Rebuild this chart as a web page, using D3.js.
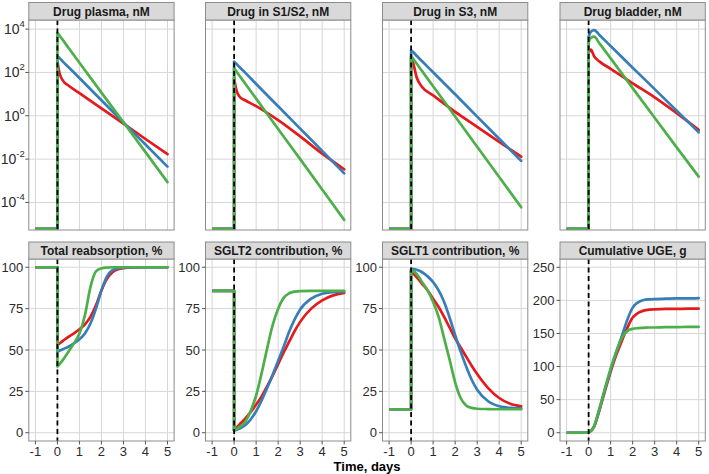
<!DOCTYPE html>
<html><head><meta charset="utf-8">
<script src="https://cdn.jsdelivr.net/npm/d3@7"></script>
<style>
body{margin:0;background:#fff}
svg{display:block;font-family:"Liberation Sans",Arial,Helvetica,sans-serif}
</style>
</head><body>
<svg id="chart" width="709" height="474"></svg>
<script>
// ---------------- DATA ----------------
const seriesColors = ["#E41A1C", "#377EB8", "#4DAF4A"]; // red, blue, green (drawn in this order)
const xTicks = [-1, 0, 1, 2, 3, 4, 5];
const topTitles = ["Drug plasma, nM", "Drug in S1/S2, nM", "Drug in S3, nM", "Drug bladder, nM"];
const bottomTitles = ["Total reabsorption, %", "SGLT2 contribution, %", "SGLT1 contribution, %", "Cumulative UGE, g"];
const xTitle = "Time, days";
const logTicks = [1e-4, 1e-2, 1, 1e2, 1e4];
const logTickExponents = ["-4", "-2", "0", "2", "4"];
const pctTicks = [0, 25, 50, 75, 100];
const ugeTicks = [0, 50, 100, 150, 200, 250];

// top row: concentrations (nM), before dose the drug is below the visible range
const topDays = [0, 0.1, 0.25, 0.5, 1, 2, 3, 4, 5];
const baselineNM = 6e-6;
const plasmaRed   = [316, 89, 42, 25, 11.2, 2.2, 0.44, 0.085, 0.017];
const plasmaBlue  = [575, 457, 316, 178, 55, 5.2, 0.49, 0.047, 0.0045];
const plasmaGreen = [6800, 4900, 3100, 1380, 280, 11.7, 0.50, 0.021, 0.00087];
const s12Red   = [55, 15.8, 7.6, 5.2, 2.8, 0.63, 0.112, 0.0178, 0.0034];
const s12Blue  = [316, 251, 174, 98, 29.5, 2.75, 0.257, 0.024, 0.0022];
const s12Green = [155, 112, 69, 31, 6.2, 0.245, 0.010, 0.0004, 0.0000158];
const s3Red   = [417, 251, 60, 21.4, 8.7, 1.51, 0.31, 0.063, 0.0129];
const s3Blue  = [1070, 850, 590, 330, 102, 9.8, 0.91, 0.087, 0.0083];
const s3Green = [575, 417, 257, 115, 23, 0.93, 0.037, 0.0015, 0.00006];
const bladderRed   = [800, 1120, 560, 316, 148, 31.6, 7.1, 1.32, 0.224];
const bladderBlue  = [4470, 7600, 8900, 5250, 1660, 166, 17, 1.7, 0.174];
const bladderGreen = [2630, 3980, 4470, 2140, 447, 19, 0.81, 0.035, 0.00155];

// bottom row
const bottomDays = [0, 0.25, 0.5, 0.75, 1, 1.25, 1.5, 1.75, 2, 2.25, 2.5, 2.75, 3, 3.5, 4, 4.5, 5];
const reabsPre = 100;
const reabsRed   = [53, 55.5, 58, 60, 62.5, 65.5, 70, 77, 86, 93, 97, 98.8, 99.5, 99.9, 100, 100, 100];
const reabsBlue  = [49, 50.5, 52, 54, 56.5, 60, 66, 75, 86, 94.5, 98.3, 99.5, 99.8, 100, 100, 100, 100];
const reabsGreen = [40, 44, 49, 54, 60, 71, 88, 97.5, 99.3, 99.8, 100, 100, 100, 100, 100, 100, 100];
const sglt2Pre = 85.7;
const sglt2Red   = [1.5, 5, 8.5, 12.5, 17, 22, 28, 34.5, 41.5, 48.5, 55, 61.5, 67, 75, 80, 83, 84.5];
const sglt2Blue  = [1.2, 2.5, 4.5, 8, 13, 19.5, 27, 35, 43.5, 52, 61, 68.5, 74.5, 81, 84, 85, 85.3];
const sglt2Green = [1.5, 3.5, 6.5, 13, 22.5, 36, 51, 65, 75, 81.5, 84.3, 85.3, 85.6, 85.7, 85.7, 85.7, 85.7];
const sglt1Pre = 14.2;
const sglt1Red   = [97.5, 94, 90, 86, 81, 76, 70, 63.5, 57, 51.5, 46, 40.5, 35.5, 27, 21, 17.5, 16];
const sglt1Blue  = [99, 98.5, 97, 94.5, 91, 86, 79, 69.5, 59, 49, 40, 32, 26, 19, 16, 15, 14.7];
const sglt1Green = [98.5, 96, 91, 86, 79, 70, 57, 44, 30.5, 21, 16.5, 15, 14.5, 14.3, 14.2, 14.2, 14.2];
const ugePre = 0;
const ugeRed   = [0, 9, 35, 64, 92, 117, 138, 158, 174, 181, 184.5, 186, 186.5, 187, 187, 187.5, 187.5];
const ugeBlue  = [0, 9.5, 36, 66, 95, 121, 145, 170, 189, 197, 200.5, 201.5, 202, 202.5, 203, 203, 203.5];
const ugeGreen = [0, 10, 38, 68, 97, 122, 143, 153.5, 157, 158, 158.5, 159, 159, 159.5, 159.5, 160, 160];

// ---------------- LAYOUT ----------------
const panelLefts = [28.8, 205.5, 382.5, 560];
const panelW = 145.3;
const rows = [
  {stripTop: 2.5, plotTop: 20, plotBottom: 230},
  {stripTop: 242, plotTop: 259, plotBottom: 441}
];

const panels = [
  {row: 0, col: 0, title: topTitles[0], days: topDays, pre: [baselineNM, baselineNM, baselineNM], series: [plasmaRed, plasmaBlue, plasmaGreen], log: true, yLabels: true},
  {row: 0, col: 1, title: topTitles[1], days: topDays, pre: [baselineNM, baselineNM, baselineNM], series: [s12Red, s12Blue, s12Green], log: true, yLabels: false},
  {row: 0, col: 2, title: topTitles[2], days: topDays, pre: [baselineNM, baselineNM, baselineNM], series: [s3Red, s3Blue, s3Green], log: true, yLabels: false},
  {row: 0, col: 3, title: topTitles[3], days: topDays, pre: [baselineNM, baselineNM, baselineNM], series: [bladderRed, bladderBlue, bladderGreen], log: true, yLabels: false},
  {row: 1, col: 0, title: bottomTitles[0], days: bottomDays, pre: [reabsPre, reabsPre, reabsPre], series: [reabsRed, reabsBlue, reabsGreen], ticks: pctTicks, domain: [-5, 105], yLabels: true},
  {row: 1, col: 1, title: bottomTitles[1], days: bottomDays, pre: [sglt2Pre, sglt2Pre, sglt2Pre], series: [sglt2Red, sglt2Blue, sglt2Green], ticks: pctTicks, domain: [-5, 105], yLabels: true},
  {row: 1, col: 2, title: bottomTitles[2], days: bottomDays, pre: [sglt1Pre, sglt1Pre, sglt1Pre], series: [sglt1Red, sglt1Blue, sglt1Green], ticks: pctTicks, domain: [-5, 105], yLabels: true},
  {row: 1, col: 3, title: bottomTitles[3], days: bottomDays, pre: [ugePre, ugePre, ugePre], series: [ugeRed, ugeBlue, ugeGreen], ticks: ugeTicks, domain: [-12.5, 262.5], yLabels: true}
];

const svg = d3.select("#chart");
const defs = svg.append("defs");
const gridColor = "#D6D6D6";
const borderColor = "#8C8C8C";
const textColor = "#2B2B2B";

panels.forEach((p, i) => {
  const r = rows[p.row];
  const left = panelLefts[p.col];
  const x = d3.scaleLinear().domain([-1.3, 5.3]).range([left, left + panelW]);
  const y = p.log
    ? d3.scaleLog().domain([Math.pow(10, -5.27), Math.pow(10, 4.42)]).range([r.plotBottom, r.plotTop])
    : d3.scaleLinear().domain(p.domain).range([r.plotBottom, r.plotTop]);
  const yTicks = p.log ? logTicks : p.ticks;

  const g = svg.append("g");
  g.append("rect").attr("x", left).attr("y", r.plotTop).attr("width", panelW)
    .attr("height", r.plotBottom - r.plotTop).attr("fill", "#fff");
  g.selectAll(".vg").data(xTicks).enter().append("line")
    .attr("x1", d => x(d)).attr("x2", d => x(d))
    .attr("y1", r.plotTop).attr("y2", r.plotBottom)
    .attr("stroke", gridColor).attr("stroke-width", 1);
  g.selectAll(".hg").data(yTicks).enter().append("line")
    .attr("x1", left).attr("x2", left + panelW)
    .attr("y1", d => y(d)).attr("y2", d => y(d))
    .attr("stroke", gridColor).attr("stroke-width", 1);

  const clipId = "clip" + i;
  defs.append("clipPath").attr("id", clipId).append("rect")
    .attr("x", left).attr("y", r.plotTop).attr("width", panelW).attr("height", r.plotBottom - r.plotTop);
  const lines = g.append("g").attr("clip-path", `url(#${clipId})`);

  const preLine = d3.line().x(d => x(d[0])).y(d => y(d[1])).curve(d3.curveLinear);
  const postLine = d3.line().x(d => x(d[0])).y(d => y(d[1])).curve(d3.curveMonotoneX);

  p.series.forEach((vals, si) => {
    const preVal = p.pre[si];
    const preData = [[-1, preVal], [0, preVal], [0, vals[0]]];
    const postData = p.days.map((t, k) => [t, vals[k]]);
    lines.append("path").attr("d", preLine(preData))
      .attr("fill", "none").attr("stroke", seriesColors[si]).attr("stroke-width", 2.7)
      .attr("stroke-linejoin", "round");
    lines.append("path").attr("d", postLine(postData))
      .attr("fill", "none").attr("stroke", seriesColors[si]).attr("stroke-width", 2.7)
      .attr("stroke-linejoin", "round").attr("stroke-linecap", "round");
  });

  lines.append("line").attr("x1", x(0)).attr("x2", x(0))
    .attr("y1", r.plotTop).attr("y2", r.plotBottom)
    .attr("stroke", "#000").attr("stroke-width", 1.8).attr("stroke-dasharray", "5,3.5");

  g.append("rect").attr("x", left).attr("y", r.plotTop).attr("width", panelW)
    .attr("height", r.plotBottom - r.plotTop).attr("fill", "none")
    .attr("stroke", borderColor).attr("stroke-width", 1);

  g.append("rect").attr("x", left).attr("y", r.stripTop).attr("width", panelW)
    .attr("height", r.plotTop - r.stripTop).attr("fill", "#D9D9D9")
    .attr("stroke", borderColor).attr("stroke-width", 1);
  g.append("text").attr("x", left + panelW / 2).attr("y", (r.stripTop + r.plotTop) / 2)
    .attr("dy", "0.36em").attr("text-anchor", "middle")
    .attr("font-size", 12).attr("font-weight", "bold").attr("fill", "#1A1A1A")
    .text(p.title);

  if (p.yLabels) {
    g.selectAll(".yt").data(yTicks).enter().append("line")
      .attr("x1", left - 3.5).attr("x2", left)
      .attr("y1", d => y(d)).attr("y2", d => y(d))
      .attr("stroke", "#555").attr("stroke-width", 1);
    if (p.log) {
      yTicks.forEach((d, k) => {
        const t = g.append("text").attr("x", left - 4).attr("y", y(d) + 5)
          .attr("text-anchor", "end").attr("fill", textColor).attr("font-size", 14);
        t.append("tspan").text("10");
        t.append("tspan").attr("dy", -7).attr("font-size", 9.5).text(logTickExponents[k]);
      });
    } else {
      g.selectAll(".yl").data(yTicks).enter().append("text")
        .attr("x", left - 5.5).attr("y", d => y(d)).attr("dy", "0.36em")
        .attr("text-anchor", "end").attr("font-size", 13).attr("fill", textColor)
        .text(d => d);
    }
  }

  if (p.row === 1) {
    g.selectAll(".xt").data(xTicks).enter().append("line")
      .attr("x1", d => x(d)).attr("x2", d => x(d))
      .attr("y1", r.plotBottom).attr("y2", r.plotBottom + 3.5)
      .attr("stroke", "#555").attr("stroke-width", 1);
    g.selectAll(".xl").data(xTicks).enter().append("text")
      .attr("x", d => x(d)).attr("y", 455.5)
      .attr("text-anchor", "middle").attr("font-size", 13).attr("fill", textColor)
      .text(d => d);
  }
});

svg.append("text").attr("x", (panelLefts[0] + panelLefts[3] + panelW) / 2).attr("y", 471)
  .attr("text-anchor", "middle").attr("font-size", 13).attr("font-weight", "bold")
  .attr("fill", "#000").text(xTitle);
</script>
</body></html>
